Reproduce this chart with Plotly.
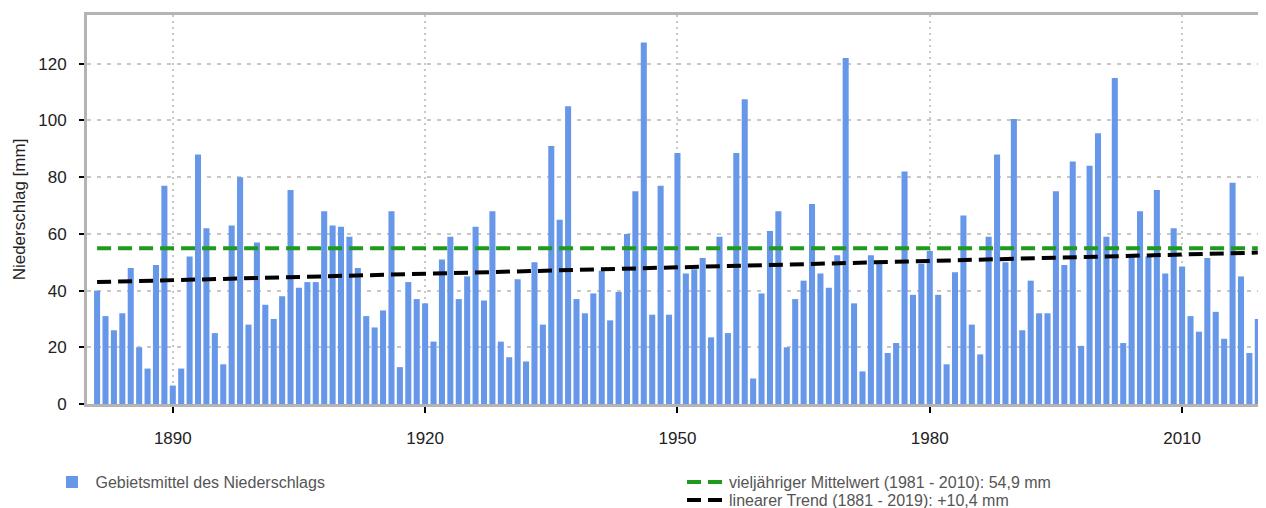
import plotly.graph_objects as go

years = list(range(1881, 2020))
precip = [
    40, 31, 26, 32, 48, 20, 12.5, 49, 77, 6.5,
    12.5, 52, 88, 62, 25, 14, 63, 80, 28, 57,
    35, 30, 38, 75.5, 41, 43, 43, 68, 63, 62.5,
    59, 48, 31, 27, 33, 68, 13, 43, 37, 35.5,
    22, 51, 59, 37, 45, 62.5, 36.5, 68, 22, 16.5,
    44, 15, 50, 28, 91, 65, 105, 37, 32, 39,
    47, 29.5, 39.5, 60, 75, 127.5, 31.5, 77, 31.5, 88.5,
    46, 47.5, 51.5, 23.5, 59, 25, 88.5, 107.5, 9, 39,
    61, 68, 20, 37, 43.5, 70.5, 46, 41, 52.5, 122,
    35.5, 11.5, 52.5, 50, 18, 21.5, 82, 38.5, 49.5, 54,
    38.5, 14, 46.5, 66.5, 28, 17.5, 59, 88, 50, 100.5,
    26, 43.5, 32, 32, 75, 49, 85.5, 20.5, 84, 95.5,
    59, 115, 21.5, 52, 68, 52, 75.5, 46, 62, 48.5,
    31, 25.5, 51.5, 32.5, 23, 78, 45, 18, 30,
]
mean_years = [1881, 2019]
mean_values = [54.9, 54.9]
trend_years = [1881, 2019]
trend_values = [43.0, 53.4]
x_ticks = [1890, 1920, 1950, 1980, 2010]
y_ticks = [0, 20, 40, 60, 80, 100, 120]

name_bar = "Gebietsmittel des Niederschlags"
name_mean = "vieljähriger Mittelwert (1981 - 2010): 54,9 mm"
name_trend = "linearer Trend (1881 - 2019): +10,4 mm"

fig = go.Figure()
fig.add_trace(go.Bar(
    x=years, y=precip, name=name_bar, marker_color="#6797e8",
    marker_line_width=0, width=0.72, legend="legend",
))
fig.add_trace(go.Scatter(
    x=mean_years, y=mean_values, mode="lines", name=name_mean,
    line=dict(color="#1f9a1f", width=4, dash="14px,7px"), legend="legend2",
))
fig.add_trace(go.Scatter(
    x=trend_years, y=trend_values, mode="lines", name=name_trend,
    line=dict(color="#000000", width=4, dash="14px,7px"), legend="legend3",
))

font_family = "Liberation Sans, Arial, sans-serif"
leg_font = dict(size=16, color="#555", family=font_family)
# page body has an 8px default margin, so the figure is sized/offset accordingly
fig.update_layout(
    width=1258, height=512,
    margin=dict(l=79, r=4, t=7, b=115),
    paper_bgcolor="white", plot_bgcolor="white",
    font=dict(family=font_family, size=17, color="#222"),
    showlegend=True,
    legend=dict(
        x=-0.0328, y=-0.1974, xanchor="left", yanchor="middle",
        font=leg_font, bgcolor="rgba(0,0,0,0)", itemwidth=37,
    ),
    legend2=dict(
        x=0.5064, y=-0.1974, xanchor="left", yanchor="middle",
        font=leg_font, bgcolor="rgba(0,0,0,0)", itemwidth=37,
    ),
    legend3=dict(
        x=0.5064, y=-0.2436, xanchor="left", yanchor="middle",
        font=leg_font, bgcolor="rgba(0,0,0,0)", itemwidth=37,
    ),
)
fig.update_xaxes(
    range=[1879.8, 2019.5], automargin=False,
    tickvals=x_ticks, ticks="outside", ticklen=6, tickcolor="#000", tickwidth=2,
    ticklabelstandoff=11,
    showgrid=True, gridcolor="#c8c8c8", griddash="2px,4px", gridwidth=2,
    showline=True, linecolor="#b4b4b4", linewidth=3, mirror=True,
    zeroline=False,
)
fig.update_yaxes(
    range=[0, 137.2], automargin=False,
    tickvals=y_ticks, ticks="outside", ticklen=5, tickcolor="#000", tickwidth=2,
    ticklabelstandoff=9,
    showgrid=True, gridcolor="#c8c8c8", griddash="4px,6px", gridwidth=2,
    showline=True, linecolor="#b4b4b4", linewidth=3, mirror=True,
    zeroline=False,
    title=dict(text="Niederschlag [mm]", font=dict(size=17, color="#222"), standoff=9),
)
fig.write_html("out.html")
